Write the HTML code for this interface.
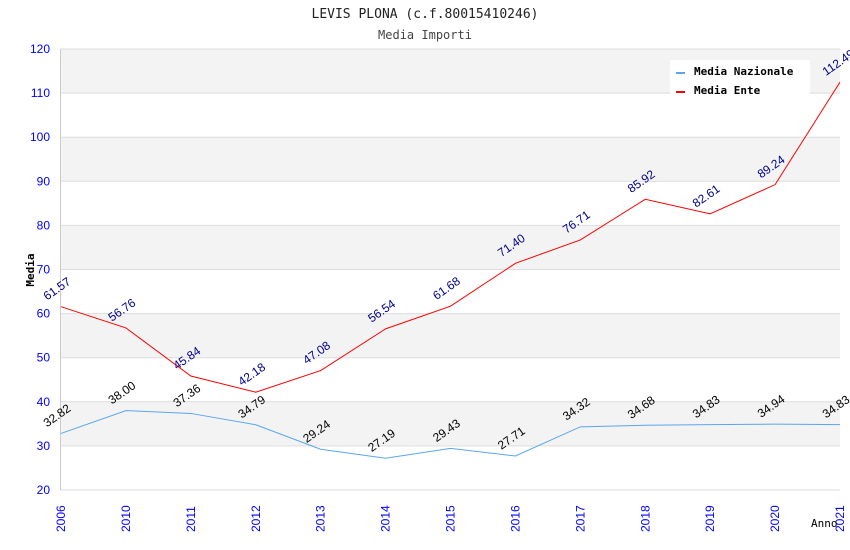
<!DOCTYPE html>
<html><head><meta charset="utf-8"><style>
body{margin:0;background:#fff}
svg{display:block}
</style></head><body>
<svg id="chart" width="850" height="550" xmlns="http://www.w3.org/2000/svg">
<text x="425" y="18" text-anchor="middle" font-family="DejaVu Sans Mono, Liberation Mono, monospace" font-size="13" fill="#222">LEVIS PLONA (c.f.80015410246)</text>
<text x="425" y="39" text-anchor="middle" font-family="DejaVu Sans Mono, Liberation Mono, monospace" font-size="12" fill="#444">Media Importi</text>
<g id="bands"></g><g id="grid"></g><g id="axes"></g><g id="series"></g><g id="labels"></g>
<text x="34" y="270" text-anchor="middle" transform="rotate(-90 34 270)" font-family="DejaVu Sans Mono, monospace" font-size="11" font-weight="bold" fill="#000">Media</text>
<text x="811" y="527" font-family="DejaVu Sans Mono, monospace" font-size="11" fill="#000">Anno</text>
<g>
<rect x="670" y="60" width="140" height="36" fill="#fff"/>
<g><rect x="676" y="72" width="9" height="2" fill="#5aa5f0"/><text x="694" y="75" font-family="DejaVu Sans Mono, monospace" font-size="11" font-weight="bold">Media Nazionale</text></g>
<g><rect x="676" y="91" width="9" height="2" fill="#f00"/><text x="694" y="94" font-family="DejaVu Sans Mono, monospace" font-size="11" font-weight="bold">Media Ente</text></g>
</g>
</svg>
<script>
const categories=["2006","2010","2011","2012","2013","2014","2015","2016","2017","2018","2019","2020","2021"];
const nazionale=[32.82,38.00,37.36,34.79,29.24,27.19,29.43,27.71,34.32,34.68,34.83,34.94,34.83];
const ente=[61.57,56.76,45.84,42.18,47.08,56.54,61.68,71.40,76.71,85.92,82.61,89.24,112.49];
const yTicks=[20,30,40,50,60,70,80,90,100,110,120];
const NS="http://www.w3.org/2000/svg";
const L=61,R=840,T=49,B=490,yMin=20,yMax=120;
const xs=i=>L+i*(R-L)/(categories.length-1);
const ys=v=>B-(v-yMin)/(yMax-yMin)*(B-T);
function mk(tag,attrs,parent,txt){const e=document.createElementNS(NS,tag);for(const k in attrs)e.setAttribute(k,attrs[k]);if(txt!=null)e.textContent=txt;document.getElementById(parent).appendChild(e);return e;}
for(let i=0;i<yTicks.length-1;i++){
 if((yTicks.length-2-i)%2===0){const r=mk('rect',{x:L,y:ys(yTicks[i+1]),width:R-L,height:ys(yTicks[i])-ys(yTicks[i+1]),fill:'#f3f3f3'},'bands');
 
 }
}
yTicks.forEach(t=>{
 const l=mk('line',{x1:L,x2:R,y1:ys(t),y2:ys(t),stroke:'#ddd','stroke-width':1},'grid');
 
 
 const tx=mk('text',{x:50,y:ys(t)+4,'text-anchor':'end','font-family':'Liberation Sans, sans-serif','font-size':12,fill:'#00f'},'axes',String(t));
 
 
});
const ax=mk('line',{x1:L-0.5,x2:L-0.5,y1:T,y2:B,stroke:'#ccc'},'axes');


categories.forEach((c,i)=>{
 const x=xs(i)+4,y=532;
 const t=mk('text',{x:x,y:y,transform:`rotate(-90 ${x} ${y})`,'font-family':'Liberation Sans, sans-serif','font-size':12,fill:'#00f'},'axes',c);
 
 
});
function series(vals,color,labColor,name){
 const p=mk('polyline',{points:vals.map((v,i)=>xs(i)+','+ys(v)).join(' '),fill:'none',stroke:color,'stroke-width':1},'series');
 
 
 vals.forEach((v,i)=>{
  const x=xs(i)-14,y=ys(v)-6;
  const t=mk('text',{x:x,y:y,transform:`rotate(-35 ${x} ${y})`,'font-family':'Liberation Sans, sans-serif','font-size':12,fill:labColor},'labels',v.toFixed(2));
  
  
 });
}
series(nazionale,'#5aa5f0','#000','nazionale');
series(ente,'#f00','#00008b','ente');
</script>
</body></html>
